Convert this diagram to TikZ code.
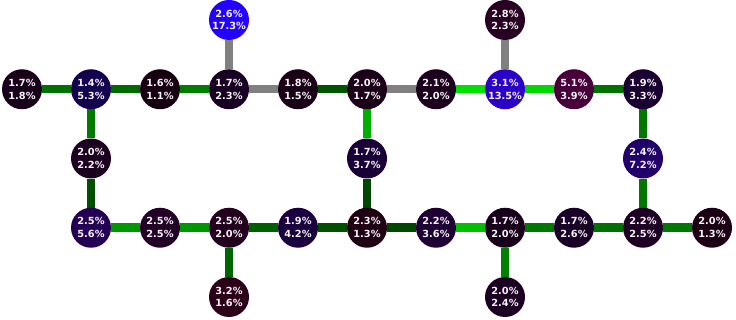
\documentclass[tikz,border=0pt]{standalone}
\usepackage{fontspec}
\setmainfont{DejaVu Sans}
\usepackage{tikz}
\usepackage{xcolor}
\usetikzlibrary{backgrounds}
\definecolor{linkgray}{HTML}{808080}
\definecolor{labelwhite}{HTML}{F4F4F4}
\tikzset{
  cell/.style={circle,inner sep=0pt,minimum size=40pt,
               align=center,text=labelwhite,
               font=\fontsize{9.8}{12.8}\selectfont\bfseries},
  link/.style={line width=8.5pt},
  graylink/.style={link,draw=linkgray}
}

\begin{document}
\begin{tikzpicture}[x=69pt,y=-69.25pt]
  \useasboundingbox (-22pt,20pt) rectangle (714pt,-300pt);
  % cells: name / column / row / first share / second share
  \foreach \nm/\cx/\cy/\p/\q in {
      r0c3/3/0/2.6/17.3, r0c7/7/0/2.8/2.3,
      r1c0/0/1/1.7/1.8, r1c1/1/1/1.4/5.3, r1c2/2/1/1.6/1.1,
      r1c3/3/1/1.7/2.3, r1c4/4/1/1.8/1.5, r1c5/5/1/2.0/1.7,
      r1c6/6/1/2.1/2.0, r1c7/7/1/3.1/13.5, r1c8/8/1/5.1/3.9,
      r1c9/9/1/1.9/3.3,
      r2c1/1/2/2.0/2.2, r2c5/5/2/1.7/3.7, r2c9/9/2/2.4/7.2,
      r3c1/1/3/2.5/5.6, r3c2/2/3/2.5/2.5, r3c3/3/3/2.5/2.0,
      r3c4/4/3/1.9/4.2, r3c5/5/3/2.3/1.3, r3c6/6/3/2.2/3.6,
      r3c7/7/3/1.7/2.0, r3c8/8/3/1.7/2.6, r3c9/9/3/2.2/2.5,
      r3c10/10/3/2.0/1.3,
      r4c3/3/4/3.2/1.6, r4c7/7/4/2.0/2.4} {
    \pgfmathtruncatemacro{\rr}{round(\p/17.3*240)}
    \pgfmathtruncatemacro{\bb}{round(\q/17.3*255)}
    \node[cell,fill={rgb,255:red,\rr;green,0;blue,\bb}] (\nm) at (\cx,\cy)
      {\p\%\\\q\%};
  }

  \begin{pgfonlayer}{background}
    % gray links
    \foreach \a/\b in {r1c3/r1c4, r1c5/r1c6, r0c3/r1c3, r0c7/r1c7}
      \draw[graylink] (\a) -- (\b);
    % green links, shade given as green value
    \foreach \a/\b/\g in {
        r1c0/r1c1/112, r1c1/r1c2/106, r1c2/r1c3/125, r1c4/r1c5/84,
        r1c6/r1c7/224, r1c7/r1c8/216, r1c8/r1c9/112,
        r1c1/r2c1/122, r2c1/r3c1/80, r1c5/r2c5/176, r2c5/r3c5/72,
        r1c9/r2c9/120, r2c9/r3c9/120,
        r3c1/r3c2/152, r3c2/r3c3/152, r3c3/r3c4/96, r3c4/r3c5/80,
        r3c5/r3c6/72, r3c6/r3c7/192, r3c7/r3c8/120, r3c8/r3c9/112,
        r3c9/r3c10/120, r3c3/r4c3/100, r3c7/r4c7/128}
      \draw[link,draw={rgb,255:red,0;green,\g;blue,0}] (\a) -- (\b);
  \end{pgfonlayer}
\end{tikzpicture}
\end{document}
